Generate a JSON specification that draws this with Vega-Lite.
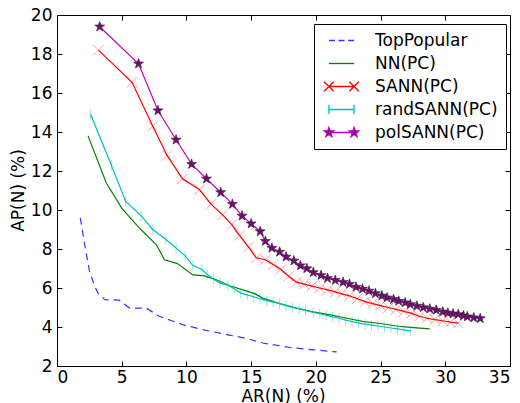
{
"$schema":"https://vega.github.io/schema/vega-lite/v6.json",
"width":453,"height":351,
"autosize":{"type":"none"},
"padding":{"left":57,"top":15,"right":10,"bottom":37},
"background":"white",
"config":{
 "view":{"stroke":"black","strokeWidth":1},
 "font":"DejaVu Sans",
 "axis":{"domain":false,"grid":false,"labelFont":"DejaVu Sans","labelFontSize":17,"labelColor":"black","titleFont":"DejaVu Sans","titleFontSize":17,"titleFontWeight":"normal","titleColor":"black","tickColor":"black","tickSize":5,"tickWidth":1,"offset":-5}
},
"data":{"values":[
{"series":"TopPopular","ar":1.8,"ap":9.6},{"series":"TopPopular","ar":2.2,"ap":8.0},{"series":"TopPopular","ar":2.5,"ap":6.9},{"series":"TopPopular","ar":2.9,"ap":6.1},{"series":"TopPopular","ar":3.2,"ap":5.7},{"series":"TopPopular","ar":3.7,"ap":5.4},{"series":"TopPopular","ar":4.8,"ap":5.38},{"series":"TopPopular","ar":5.6,"ap":4.97},{"series":"TopPopular","ar":6.9,"ap":4.97},{"series":"TopPopular","ar":7.9,"ap":4.55},{"series":"TopPopular","ar":9.7,"ap":4.12},{"series":"TopPopular","ar":11.5,"ap":3.83},{"series":"TopPopular","ar":13.2,"ap":3.6},{"series":"TopPopular","ar":14.6,"ap":3.42},{"series":"TopPopular","ar":15.9,"ap":3.18},{"series":"TopPopular","ar":18.0,"ap":2.95},{"series":"TopPopular","ar":19.8,"ap":2.83},{"series":"TopPopular","ar":21.6,"ap":2.72},
{"series":"NN(PC)","ar":2.4,"ap":13.8},{"series":"NN(PC)","ar":3.8,"ap":11.4},{"series":"NN(PC)","ar":5.0,"ap":10.1},{"series":"NN(PC)","ar":6.4,"ap":9.05},{"series":"NN(PC)","ar":7.7,"ap":8.2},{"series":"NN(PC)","ar":8.3,"ap":7.45},{"series":"NN(PC)","ar":9.3,"ap":7.25},{"series":"NN(PC)","ar":10.5,"ap":6.67},{"series":"NN(PC)","ar":11.4,"ap":6.62},{"series":"NN(PC)","ar":12.3,"ap":6.42},{"series":"NN(PC)","ar":13.4,"ap":6.1},{"series":"NN(PC)","ar":14.6,"ap":5.85},{"series":"NN(PC)","ar":15.3,"ap":5.7},{"series":"NN(PC)","ar":15.9,"ap":5.48},{"series":"NN(PC)","ar":17.2,"ap":5.2},{"series":"NN(PC)","ar":18.5,"ap":4.97},{"series":"NN(PC)","ar":19.8,"ap":4.78},{"series":"NN(PC)","ar":21.1,"ap":4.62},{"series":"NN(PC)","ar":22.4,"ap":4.45},{"series":"NN(PC)","ar":23.7,"ap":4.28},{"series":"NN(PC)","ar":25.0,"ap":4.18},{"series":"NN(PC)","ar":26.2,"ap":4.05},{"series":"NN(PC)","ar":27.3,"ap":3.98},{"series":"NN(PC)","ar":28.8,"ap":3.9},
{"series":"SANN(PC)","ar":3.2,"ap":18.2},{"series":"SANN(PC)","ar":5.8,"ap":16.55},{"series":"SANN(PC)","ar":7.4,"ap":14.3},{"series":"SANN(PC)","ar":8.5,"ap":12.8},{"series":"SANN(PC)","ar":9.7,"ap":11.6},{"series":"SANN(PC)","ar":11.0,"ap":11.05},{"series":"SANN(PC)","ar":11.9,"ap":10.3},{"series":"SANN(PC)","ar":12.8,"ap":9.75},{"series":"SANN(PC)","ar":13.5,"ap":9.25},{"series":"SANN(PC)","ar":14.1,"ap":8.7},{"series":"SANN(PC)","ar":14.8,"ap":8.1},{"series":"SANN(PC)","ar":15.4,"ap":7.55},{"series":"SANN(PC)","ar":16.1,"ap":7.45},{"series":"SANN(PC)","ar":16.7,"ap":7.2},{"series":"SANN(PC)","ar":17.3,"ap":6.95},{"series":"SANN(PC)","ar":17.9,"ap":6.6},{"series":"SANN(PC)","ar":18.5,"ap":6.3},{"series":"SANN(PC)","ar":19.1,"ap":6.2},{"series":"SANN(PC)","ar":19.7,"ap":6.1},{"series":"SANN(PC)","ar":20.3,"ap":6.0},{"series":"SANN(PC)","ar":20.9,"ap":5.9},{"series":"SANN(PC)","ar":21.5,"ap":5.8},{"series":"SANN(PC)","ar":22.0,"ap":5.7},{"series":"SANN(PC)","ar":22.6,"ap":5.6},{"series":"SANN(PC)","ar":23.2,"ap":5.45},{"series":"SANN(PC)","ar":23.8,"ap":5.3},{"series":"SANN(PC)","ar":24.4,"ap":5.2},{"series":"SANN(PC)","ar":25.0,"ap":5.1},{"series":"SANN(PC)","ar":25.6,"ap":5.0},{"series":"SANN(PC)","ar":26.2,"ap":4.9},{"series":"SANN(PC)","ar":26.8,"ap":4.8},{"series":"SANN(PC)","ar":27.4,"ap":4.7},{"series":"SANN(PC)","ar":28.0,"ap":4.55},{"series":"SANN(PC)","ar":28.6,"ap":4.45},{"series":"SANN(PC)","ar":29.2,"ap":4.38},{"series":"SANN(PC)","ar":29.8,"ap":4.32},{"series":"SANN(PC)","ar":30.4,"ap":4.25},{"series":"SANN(PC)","ar":31.0,"ap":4.2},
{"series":"randSANN(PC)","ar":2.6,"ap":14.9},{"series":"randSANN(PC)","ar":4.2,"ap":12.3},{"series":"randSANN(PC)","ar":5.3,"ap":10.45},{"series":"randSANN(PC)","ar":6.5,"ap":9.7},{"series":"randSANN(PC)","ar":7.4,"ap":9.0},{"series":"randSANN(PC)","ar":8.4,"ap":8.5},{"series":"randSANN(PC)","ar":9.2,"ap":8.05},{"series":"randSANN(PC)","ar":9.9,"ap":7.65},{"series":"randSANN(PC)","ar":10.5,"ap":7.15},{"series":"randSANN(PC)","ar":11.2,"ap":6.95},{"series":"randSANN(PC)","ar":11.6,"ap":6.7},{"series":"randSANN(PC)","ar":12.1,"ap":6.45},{"series":"randSANN(PC)","ar":12.6,"ap":6.25},{"series":"randSANN(PC)","ar":13.2,"ap":6.15},{"series":"randSANN(PC)","ar":13.7,"ap":5.95},{"series":"randSANN(PC)","ar":14.2,"ap":5.75},{"series":"randSANN(PC)","ar":14.7,"ap":5.65},{"series":"randSANN(PC)","ar":15.2,"ap":5.55},{"series":"randSANN(PC)","ar":15.7,"ap":5.45},{"series":"randSANN(PC)","ar":16.2,"ap":5.35},{"series":"randSANN(PC)","ar":16.7,"ap":5.28},{"series":"randSANN(PC)","ar":17.2,"ap":5.2},{"series":"randSANN(PC)","ar":17.7,"ap":5.1},{"series":"randSANN(PC)","ar":18.2,"ap":5.0},{"series":"randSANN(PC)","ar":18.7,"ap":4.95},{"series":"randSANN(PC)","ar":19.2,"ap":4.85},{"series":"randSANN(PC)","ar":19.8,"ap":4.75},{"series":"randSANN(PC)","ar":20.3,"ap":4.68},{"series":"randSANN(PC)","ar":20.8,"ap":4.6},{"series":"randSANN(PC)","ar":21.3,"ap":4.52},{"series":"randSANN(PC)","ar":21.8,"ap":4.45},{"series":"randSANN(PC)","ar":22.3,"ap":4.35},{"series":"randSANN(PC)","ar":22.8,"ap":4.28},{"series":"randSANN(PC)","ar":23.3,"ap":4.2},{"series":"randSANN(PC)","ar":23.8,"ap":4.15},{"series":"randSANN(PC)","ar":24.3,"ap":4.1},{"series":"randSANN(PC)","ar":24.8,"ap":4.05},{"series":"randSANN(PC)","ar":25.3,"ap":4.0},{"series":"randSANN(PC)","ar":25.8,"ap":3.95},{"series":"randSANN(PC)","ar":26.3,"ap":3.9},{"series":"randSANN(PC)","ar":26.8,"ap":3.85},{"series":"randSANN(PC)","ar":27.3,"ap":3.8},
{"series":"polSANN(PC)","ar":3.3,"ap":19.4},{"series":"polSANN(PC)","ar":6.3,"ap":17.5},{"series":"polSANN(PC)","ar":7.8,"ap":15.1},{"series":"polSANN(PC)","ar":9.2,"ap":13.6},{"series":"polSANN(PC)","ar":10.4,"ap":12.35},{"series":"polSANN(PC)","ar":11.55,"ap":11.6},{"series":"polSANN(PC)","ar":12.65,"ap":10.9},{"series":"polSANN(PC)","ar":13.55,"ap":10.3},{"series":"polSANN(PC)","ar":14.3,"ap":9.7},{"series":"polSANN(PC)","ar":15.0,"ap":9.3},{"series":"polSANN(PC)","ar":15.7,"ap":8.9},{"series":"polSANN(PC)","ar":16.1,"ap":8.4},{"series":"polSANN(PC)","ar":16.6,"ap":8.05},{"series":"polSANN(PC)","ar":17.2,"ap":7.85},{"series":"polSANN(PC)","ar":17.7,"ap":7.6},{"series":"polSANN(PC)","ar":18.3,"ap":7.4},{"series":"polSANN(PC)","ar":18.8,"ap":7.15},{"series":"polSANN(PC)","ar":19.3,"ap":7.0},{"series":"polSANN(PC)","ar":19.8,"ap":6.8},{"series":"polSANN(PC)","ar":20.4,"ap":6.65},{"series":"polSANN(PC)","ar":20.9,"ap":6.5},{"series":"polSANN(PC)","ar":21.5,"ap":6.4},{"series":"polSANN(PC)","ar":22.1,"ap":6.3},{"series":"polSANN(PC)","ar":22.6,"ap":6.2},{"series":"polSANN(PC)","ar":23.1,"ap":6.05},{"series":"polSANN(PC)","ar":23.6,"ap":5.95},{"series":"polSANN(PC)","ar":24.1,"ap":5.85},{"series":"polSANN(PC)","ar":24.6,"ap":5.72},{"series":"polSANN(PC)","ar":25.1,"ap":5.6},{"series":"polSANN(PC)","ar":25.5,"ap":5.5},{"series":"polSANN(PC)","ar":26.0,"ap":5.42},{"series":"polSANN(PC)","ar":26.4,"ap":5.33},{"series":"polSANN(PC)","ar":26.9,"ap":5.25},{"series":"polSANN(PC)","ar":27.3,"ap":5.16},{"series":"polSANN(PC)","ar":27.8,"ap":5.08},{"series":"polSANN(PC)","ar":28.3,"ap":5.0},{"series":"polSANN(PC)","ar":28.8,"ap":4.93},{"series":"polSANN(PC)","ar":29.3,"ap":4.87},{"series":"polSANN(PC)","ar":29.8,"ap":4.78},{"series":"polSANN(PC)","ar":30.2,"ap":4.72},{"series":"polSANN(PC)","ar":30.6,"ap":4.68},{"series":"polSANN(PC)","ar":31.0,"ap":4.65},{"series":"polSANN(PC)","ar":31.4,"ap":4.58},{"series":"polSANN(PC)","ar":31.7,"ap":4.53},{"series":"polSANN(PC)","ar":32.2,"ap":4.48},{"series":"polSANN(PC)","ar":32.7,"ap":4.44}
]},
"encoding":{
 "x":{"field":"ar","type":"quantitative","scale":{"domain":[0,35],"nice":false,"zero":false},"axis":null},
 "y":{"field":"ap","type":"quantitative","scale":{"domain":[2,20],"nice":false,"zero":false},"axis":null}
},
"layer":[
 {"transform":[{"filter":"datum.series == 'TopPopular'"}],"mark":{"type":"line","strokeWidth":1.2,"stroke":"#3333ff","strokeDash":[7,5]},
  "encoding":{
   "x":{"field":"ar","type":"quantitative","scale":{"domain":[0,35],"nice":false,"zero":false},"axis":{"orient":"bottom","values":[0,5,10,15,20,25,30,35],"title":"AR(N) (%)","titleX":226,"titleY":27,"titleAlign":"center","titleBaseline":"top","labelPadding":3}},
   "y":{"field":"ap","type":"quantitative","scale":{"domain":[2,20],"nice":false,"zero":false},"axis":{"orient":"left","values":[2,4,6,8,10,12,14,16,18,20],"title":"AP(N) (%)","titleX":-44,"titleY":175,"titleAngle":-90,"titleAlign":"center","titleBaseline":"middle","labelPadding":5}}
  }},
 {"transform":[{"filter":"datum.series != 'TopPopular'"}],"mark":{"type":"line","strokeWidth":1.2},
  "encoding":{
   "color":{"field":"series","type":"nominal",
    "scale":{"domain":["TopPopular","NN(PC)","SANN(PC)","randSANN(PC)","polSANN(PC)"],"range":["#3333ff","#008000","#ff0000","#00bfbf","#bf00bf"]},
    "legend":{"orient":"none","legendX":257,"legendY":9,"title":null,"strokeColor":"black","fillColor":"white","padding":8,"labelFont":"DejaVu Sans","labelFontSize":17,"labelColor":"black","symbolSize":144,"symbolStrokeWidth":1.3,"rowPadding":5,"symbolOffset":11,"labelOffset":25,
     "encode":{"symbols":{"update":{
      "shape":{"signal":"datum.value == 'TopPopular' ? 'M-2.1,0H-1.1M-0.5,0H0.5M1.1,0H2.1' : datum.value == 'NN(PC)' ? 'M-2.1,0H2.1' : datum.value == 'SANN(PC)' ? 'M-2.1,0H2.1M-2.9,-0.8L-1.3,0.8M-2.9,0.8L-1.3,-0.8M1.3,-0.8L2.9,0.8M1.3,0.8L2.9,-0.8' : datum.value == 'randSANN(PC)' ? 'M-2.1,0H2.1M-2.1,-0.8V0.8M2.1,-0.8V0.8' : 'M-2.1,0H2.1M-2.1,-0.85L-1.9,-0.275L-1.292,-0.263L-1.777,0.105L-1.6,0.688L-2.1,0.34L-2.6,0.688L-2.423,0.105L-2.908,-0.263L-2.3,-0.275ZM2.1,-0.85L2.3,-0.275L2.908,-0.263L2.423,0.105L2.6,0.688L2.1,0.34L1.6,0.688L1.777,0.105L1.292,-0.263L1.9,-0.275Z'"},
      "fill":{"signal":"datum.value == 'polSANN(PC)' ? '#800080' : 'transparent'"}
     }}}}
   }
  }},
 {"transform":[{"filter":"datum.series == 'SANN(PC)'"}],"mark":{"type":"point","shape":"M-1,-1L1,1M-1,1L1,-1","size":110,"filled":false,"stroke":"#ff0000","strokeOpacity":0.5,"strokeWidth":1},
  "encoding":{
   "x":{"field":"ar","type":"quantitative","scale":{"domain":[0,35],"nice":false,"zero":false},"axis":{"orient":"top","values":[0,5,10,15,20,25,30,35],"labels":false,"title":null}},
   "y":{"field":"ap","type":"quantitative","scale":{"domain":[2,20],"nice":false,"zero":false},"axis":{"orient":"right","values":[2,4,6,8,10,12,14,16,18,20],"labels":false,"title":null}}
  }},
 {"transform":[{"filter":"datum.series == 'randSANN(PC)'"}],"mark":{"type":"point","shape":"M0,-1V1","size":110,"filled":false,"stroke":"#00bfbf","strokeOpacity":0.6,"strokeWidth":1}},
 {"transform":[{"filter":"datum.series == 'polSANN(PC)'"}],"mark":{"type":"point","shape":"M0,-1L0.235,-0.324L0.951,-0.309L0.38,0.124L0.588,0.809L0,0.4L-0.588,0.809L-0.38,0.124L-0.951,-0.309L-0.235,-0.324Z","size":110,"filled":true,"fill":"#800080","fillOpacity":1,"stroke":"#333333","strokeWidth":0.7}}
],
"resolve":{"axis":{"x":"independent","y":"independent"}}
}
